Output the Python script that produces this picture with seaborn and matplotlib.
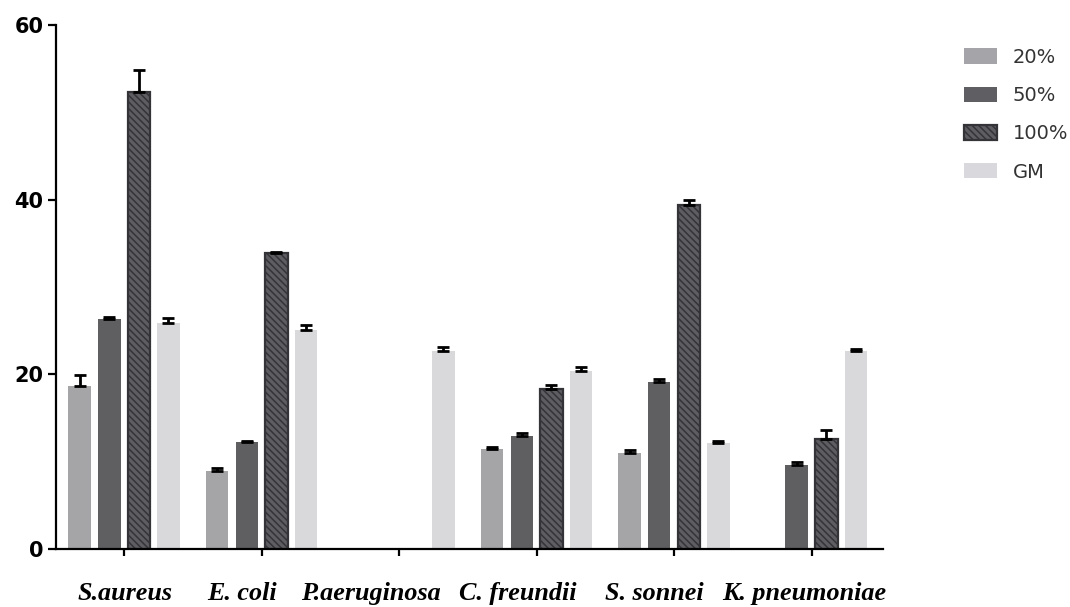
import numpy as np
import pandas as pd
import matplotlib
matplotlib.use("Agg")
import matplotlib.pyplot as plt
import matplotlib.transforms as mtransforms
from matplotlib.patches import Patch
from matplotlib.container import BarContainer
import seaborn as sns

categories = ["S.aureus", "E. coli", "P.aeruginosa", "C. freundii", "S. sonnei", "K. pneumoniae"]
groups = ["20%", "50%", "100%", "GM"]
nan = np.nan
vals_20 = [18.7, 8.9, nan, 11.4, 11.0, nan]
err_20 = [1.2, 0.4, nan, 0.3, 0.3, nan]
vals_50 = [26.3, 12.2, nan, 12.9, 19.1, 9.6]
err_50 = [0.3, 0.2, nan, 0.35, 0.4, 0.35]
vals_100 = [52.3, 33.9, nan, 18.3, 39.4, 12.6]
err_100 = [2.6, 0.1, nan, 0.5, 0.6, 1.0]
vals_gm = [25.9, 25.1, 22.7, 20.4, 12.1, 22.7]
err_gm = [0.6, 0.6, 0.4, 0.4, 0.25, 0.15]

colors = ["#a5a4a8", "#5f5e62", "#505053", "#d9d8dc"]
hatch_face = "#5e5d61"
hatch_edge = "#343337"

rows = []
for g, vs, es in zip(groups, [vals_20, vals_50, vals_100, vals_gm], [err_20, err_50, err_100, err_gm]):
    for c, v, e in zip(categories, vs, es):
        rows.append({"cat": c, "grp": g, "val": v, "err": e})
df = pd.DataFrame(rows)
df_plot = df.dropna(subset=["val"])

sns.set_style("ticks")
plt.rcParams["hatch.linewidth"] = 1.1

fig = plt.figure(figsize=(10.7, 6.07), dpi=100)
ax = fig.add_axes([56 / 1070, 58 / 607, (883 - 56) / 1070, (549 - 25) / 607])

sns.barplot(data=df_plot, x="cat", y="val", hue="grp", order=categories, hue_order=groups,
            palette=colors, width=0.86, gap=0.24, errorbar=None, linewidth=0,
            legend=False, ax=ax)

err_lookup = {(r.grp, r.cat): r.err for r in df.itertuples()}
bar_containers = [c for c in ax.containers if isinstance(c, BarContainer)]
for gi, cont in enumerate(bar_containers):
    g = groups[gi]
    for bar in cont:
        h = bar.get_height()
        if not np.isfinite(h):
            continue
        xc = bar.get_x() + bar.get_width() / 2
        ci = int(round(xc))
        e = err_lookup[(g, categories[ci])]
        if gi == 2:
            bar.set_hatch("\\\\\\\\\\")
            bar.set_edgecolor(hatch_edge)
            bar.set_facecolor(hatch_face)
            bar.set_linewidth(1.6)
        ax.errorbar([xc], [h], yerr=[[0], [e]], fmt="none", ecolor="black",
                    elinewidth=2, capsize=4.5, capthick=2, zorder=1)

ax.set_ylim(0, 60)
ax.set_xlim(-0.495, 5.52)
ax.set_yticks([0, 20, 40, 60])
ax.set_xlabel("")
ax.set_ylabel("")
sns.despine(ax=ax)
for s in ["left", "bottom"]:
    ax.spines[s].set_linewidth(1.6)
    ax.spines[s].set_color("black")
ax.tick_params(axis="y", length=6, width=1.6, pad=3, labelsize=15, colors="black")
ax.tick_params(axis="x", length=5, width=1.6, pad=19, labelsize=18.8, colors="black")
for lab in ax.get_yticklabels():
    lab.set_fontfamily("DejaVu Sans")
    lab.set_fontweight("bold")
# label horizontal offsets (pixels) as placed in the original figure
label_dx = [1, -20, -28, -19, -20, -7]
for lab, dx in zip(ax.get_xticklabels(), label_dx):
    lab.set_fontfamily("Liberation Serif")
    lab.set_fontweight("bold")
    lab.set_fontstyle("italic")
    lab.set_transform(lab.get_transform() + mtransforms.ScaledTranslation(dx / 100, 0, fig.dpi_scale_trans))

handles = []
for gi, g in enumerate(groups):
    if gi == 2:
        handles.append(Patch(facecolor=hatch_face, edgecolor=hatch_edge, hatch="\\\\\\\\\\", linewidth=1.6, label=g))
    else:
        handles.append(Patch(facecolor=colors[gi], edgecolor="none", label=g))
leg = fig.legend(handles=handles, loc="upper left", bbox_to_anchor=(956 / 1070, 1 - 40 / 607),
                 frameon=False, handlelength=1.7, handleheight=0.82,
                 labelspacing=0.99, handletextpad=0.8, borderaxespad=0,
                 prop={"family": "DejaVu Sans", "size": 14})
for t in leg.get_texts():
    t.set_color("#333333")

fig.savefig("out.png", dpi=100)
